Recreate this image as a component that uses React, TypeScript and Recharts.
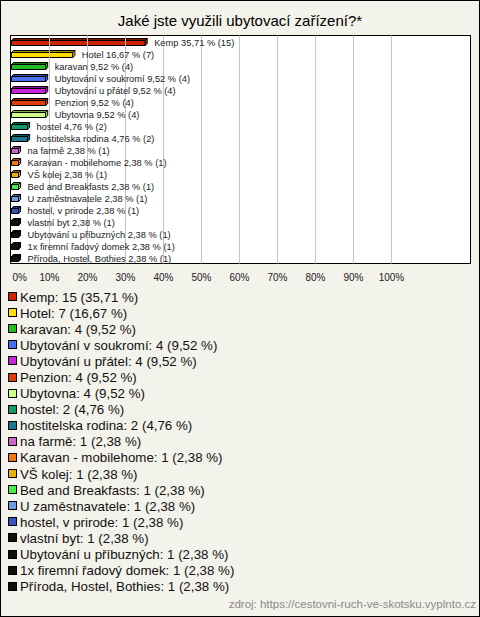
import { BarChart, Bar, XAxis, YAxis, Cell, LabelList, ReferenceLine } from "recharts";

// survey answers, in display order
const names = [
  "Kemp",
  "Hotel",
  "karavan",
  "Ubytování v soukromí",
  "Ubytování u přátel",
  "Penzion",
  "Ubytovna",
  "hostel",
  "hostitelska rodina",
  "na farmě",
  "Karavan - mobilehome",
  "VŠ kolej",
  "Bed and Breakfasts",
  "U zaměstnavatele",
  "hostel, v prirode",
  "vlastní byt",
  "Ubytování u příbuzných",
  "1x firemní řadový domek",
  "Příroda, Hostel, Bothies",
];
const counts = [15, 7, 4, 4, 4, 4, 4, 2, 2, 1, 1, 1, 1, 1, 1, 1, 1, 1, 1];
const percents = [
  35.71, 16.67, 9.52, 9.52, 9.52, 9.52, 9.52, 4.76, 4.76, 2.38, 2.38, 2.38, 2.38, 2.38, 2.38,
  2.38, 2.38, 2.38, 2.38,
];
const colors = [
  "#cc2200",
  "#ffdd00",
  "#22bb22",
  "#4a6ef0",
  "#cc22dd",
  "#e03c0a",
  "#ccff88",
  "#119966",
  "#1a7a8c",
  "#cc66cc",
  "#ee7711",
  "#e8b000",
  "#44ee44",
  "#6f9ce0",
  "#3355bb",
  "#111111",
  "#111111",
  "#111111",
  "#111111",
];
const xTicks = [0, 10, 20, 30, 40, 50, 60, 70, 80, 90, 100];

const fmt = (v: number) => v.toFixed(2).replace(".", ",");

const data = names.map((name, i) => ({ name, pct: percents[i], count: counts[i] }));

const BG = "#f3f2eb";
const FONT = "'Liberation Sans', Arial, sans-serif";

// little 3d bar, like the old flash charts
function Bar3D(props: any) {
  const { x, y, width, height, fill } = props;
  if (width <= 0) return null;
  const d = 2;
  const w = width;
  return (
    <g stroke="#000" strokeWidth={1} strokeLinejoin="round">
      <rect x={x} y={y + d} width={w - d} height={height - d} fill={fill} />
      <polygon
        points={`${x},${y + d} ${x + d},${y} ${x + w},${y} ${x + w - d},${y + d}`}
        fill={fill}
      />
      <polygon
        points={`${x},${y + d} ${x + d},${y} ${x + w},${y} ${x + w - d},${y + d}`}
        fill="#000"
        fillOpacity={0.35}
        stroke="none"
      />
      <polygon
        points={`${x + w - d},${y + d} ${x + w},${y} ${x + w},${y + height - d} ${x + w - d},${y + height}`}
        fill={fill}
      />
    </g>
  );
}

function BarLabel(props: any) {
  const { x, y, width, height, index } = props;
  return (
    <text
      x={x + width + 7}
      y={y + height / 2 + 3.5}
      fontSize={9.3}
      fontFamily={FONT}
      fill="#222"
    >
      {`${names[index]} ${fmt(percents[index])} % (${counts[index]})`}
    </text>
  );
}

function XTick(props: any) {
  const { x, y, payload } = props;
  const first = payload.value === 0;
  return (
    <text
      x={first ? x + 1 : x}
      y={y + 9}
      textAnchor={first ? "start" : "middle"}
      fontSize={10}
      fontFamily={FONT}
      fill="#222"
    >
      {`${payload.value}%`}
    </text>
  );
}

export default function App() {
  return (
    <div
      style={{
        position: "absolute",
        left: 0,
        top: 0,
        width: 480,
        height: 617,
        boxSizing: "border-box",
        border: "1px solid #000",
        background: BG,
        fontFamily: FONT,
        overflow: "hidden",
      }}
    >
      <div
        style={{
          position: "absolute",
          left: -1,
          top: 11,
          width: 480,
          textAlign: "center",
          fontSize: 15,
          color: "#000",
        }}
      >
        Jaké jste využili ubytovací zařízení?*
      </div>

      {/* plot frame */}
      <div
        style={{
          position: "absolute",
          left: 9,
          top: 34,
          width: 461,
          height: 229,
          boxSizing: "border-box",
          border: "1px solid #000",
          background: "#fff",
        }}
      />

      <div style={{ position: "absolute", left: -1, top: -1 }}>
        <BarChart
          width={480}
          height={290}
          data={data}
          layout="vertical"
          margin={{ top: 35.5, right: 9.5, left: 10.5, bottom: 6.5 }}
        >
          <XAxis
            type="number"
            domain={[0, 120.8]}
            ticks={xTicks}
            padding={{ left: 1 }}
            axisLine={false}
            tickLine={false}
            tick={<XTick />}
            height={20}
            interval={0}
          />
          <YAxis type="category" dataKey="name" hide />
          {xTicks.slice(1).map((t) => (
            <ReferenceLine key={t} x={t} stroke="#c4c4c4" strokeWidth={1} />
          ))}
          <Bar dataKey="pct" barSize={7} shape={<Bar3D />} isAnimationActive={false}>
            {data.map((_, i) => (
              <Cell key={i} fill={colors[i]} />
            ))}
            <LabelList dataKey="pct" content={<BarLabel />} />
          </Bar>
        </BarChart>
      </div>

      {/* legend */}
      <div style={{ position: "absolute", left: 7, top: 288 }}>
        {names.map((n, i) => (
          <div
            key={n}
            style={{
              height: 16.1,
              display: "flex",
              alignItems: "center",
              fontSize: 13.3,
              color: "#111",
              whiteSpace: "nowrap",
            }}
          >
            <span
              style={{
                display: "inline-block",
                width: 9,
                height: 9,
                boxSizing: "border-box",
                border: "1px solid #000",
                background: colors[i],
                marginRight: 3,
                marginTop: -1,
              }}
            />
            {`${n}: ${counts[i]} (${fmt(percents[i])} %)`}
          </div>
        ))}
      </div>

      <div
        style={{
          position: "absolute",
          right: 3,
          top: 597,
          fontSize: 11.5,
          color: "#8a8a8a",
        }}
      >
        zdroj: https://cestovni-ruch-ve-skotsku.vyplnto.cz
      </div>
    </div>
  );
}
